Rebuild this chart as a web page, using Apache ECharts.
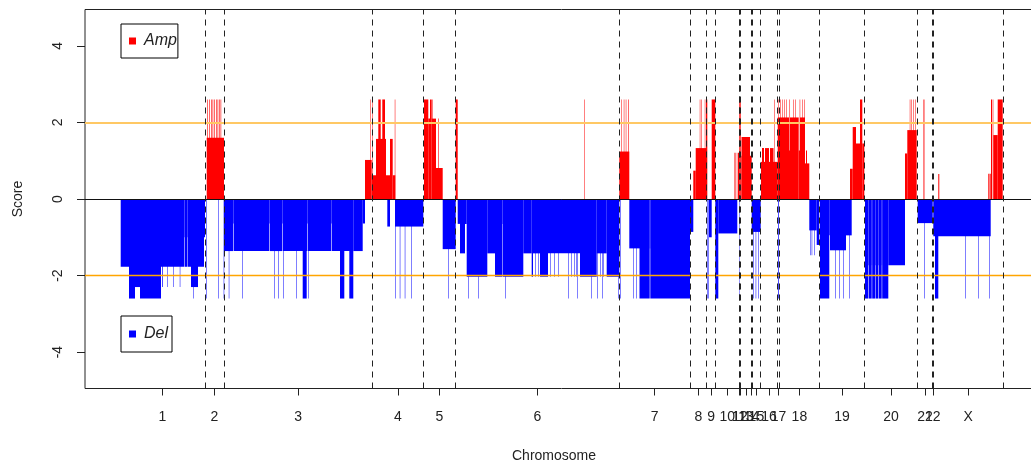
<!DOCTYPE html>
<html>
<head>
<meta charset="utf-8">
<script src="https://cdn.jsdelivr.net/npm/echarts@6/dist/echarts.min.js"></script>
<style>
  html, body { margin: 0; padding: 0; background: #fff; overflow: hidden; }
  #chart { width: 1045px; height: 468px; }
</style>
</head>
<body>
<div id="chart"></div>
<script>
// Chromosome layout along the genome axis (cumulative end positions, chr1 starts at 0)
const chromNames = ['1','2','3','4','5','6','7','8','9','10','11','12','13','14','15','16','17','18','19','20','21','22','X'];
const chromEnds = [85, 104, 252.5, 303.5, 335.5, 499.3, 570, 586.7, 595.7, 619, 619.7, 620.5, 631, 632.3, 640.5, 657.7, 659.3, 699.5, 744.4, 797.7, 812.5, 813.2, 883.2];

// Significance thresholds drawn as horizontal guides
const ampThreshold = 2;
const delThreshold = -2;

// Amplification segments: [start, end, score]
const ampSegments = [
  // chr2
  [86.7, 104, 1.6], [87, 87.6, 2.6], [89, 89.6, 2.6], [91, 91.6, 2.6], [92.6, 93.2, 2.6], [94.2, 94.8, 2.6],
  [96, 96.6, 2.6], [97.6, 98.2, 2.6], [99.2, 99.8, 2.6], [100.6, 101.2, 2.6],
  // chr3 end / chr4
  [245, 251.7, 1.02], [251.7, 256, 0.62], [250.5, 251, 2.6], [252.5, 253, 2.6],
  [256, 266, 1.57], [258.3, 260.7, 2.6], [262.3, 265, 2.6], [266, 270, 0.62],
  [270, 272.7, 1.57], [272.7, 275.3, 0.62], [274.8, 275.3, 2.6],
  // chr5
  [304, 308.3, 2.6], [308.3, 310, 2.1], [310, 311.7, 2.6], [311.7, 316, 2.1], [312.5, 313, 2.6],
  [316, 322.7, 0.81], [318, 318.6, 2.1],
  // chr6
  [335.7, 337.7, 2.6], [464.1, 464.6, 2.6],
  // chr7
  [499.3, 509.3, 1.24], [501.5, 502, 2.6], [503.8, 504.3, 2.6], [505.8, 506.3, 2.6], [508, 508.6, 2.6],
  // chr8
  [573.3, 575.7, 0.74], [575.7, 586, 1.33], [579.8, 580.3, 2.6], [581.5, 582, 2.6], [584.8, 585.3, 2.6], [586, 587.3, 2.6],
  // chr9
  [591.7, 595.3, 2.6],
  // chr10
  [614.3, 614.8, 1.21], [615.5, 616, 1.21], [616.8, 617.3, 1.21], [618, 619.3, 1.21],
  // chr11 / chr12
  [619.3, 620.7, 2.6],
  // chr13
  [620.7, 621.5, 1.13], [621.5, 630, 1.62], [630, 631.7, 1.13],
  // chr16
  [641, 657.7, 0.97], [642, 644, 1.33], [645, 649, 1.33], [650, 653.5, 1.33], [654, 654.5, 2.6],
  // chr17 / chr18
  [657.7, 669, 2.13], [669, 670, 1.27], [670, 678.7, 2.13], [678.7, 680, 1.27], [680, 685, 2.13],
  [685, 689.3, 0.93], [686, 687, 1.27],
  [658.5, 659, 2.6], [660.5, 661, 2.6], [662.3, 662.8, 2.6], [664, 664.5, 2.6], [666, 666.5, 2.6],
  [669.3, 669.8, 2.6], [673, 673.5, 2.6], [675.3, 675.8, 2.6], [679.7, 680.2, 2.6], [682.5, 683, 2.6], [684.2, 684.7, 2.6],
  // chr19
  [730, 732.7, 0.79], [732.7, 736, 1.88], [736, 740, 1.45], [740, 742.3, 2.6], [742.3, 744.3, 1.45],
  // chr20
  [785, 787.3, 1.19], [787.3, 796.7, 1.8], [789.8, 790.3, 2.6], [791.5, 792, 2.6], [793.2, 793.7, 2.6], [795, 795.5, 2.6],
  // chr21
  [803, 803.5, 2.6], [804.2, 804.6, 2.6],
  // chrX
  [818.3, 819.3, 0.65], [868.3, 869.3, 0.66], [869.7, 870.7, 0.66], [871, 872, 2.6], [872.7, 873.3, 2.6],
  [873.3, 877.7, 1.67], [877.7, 882.7, 2.6]
];

// Deletion segments: [start, end, score]
const delSegments = [
  // chr1
  [0.7, 9, -1.77], [9, 15, -2.6], [15, 20, -2.3], [20, 41, -2.6], [41, 64.1, -1.77], [64.1, 64.6, -1.0],
  [64.6, 67.5, -1.77], [67.5, 68, -1.0], [68, 71, -1.77], [71, 78, -2.3], [78, 84, -1.77], [84, 85, -1.0],
  [42.3, 43, -2.3], [47.5, 48, -2.3], [53, 53.5, -2.3], [59.8, 60.3, -2.3], [73.1, 73.6, -2.6],
  // chr2
  [86.5, 87, -2.6], [98, 98.5, -2.6], [103.7, 104.2, -2.6],
  // chr3
  [104, 113, -1.36], [113, 113.6, -0.64], [113.6, 149, -1.36], [149, 149.6, -0.64], [149.6, 162, -1.36],
  [162, 162.6, -0.64], [162.6, 187, -1.36], [187, 187.6, -0.64], [187.6, 211.4, -1.36], [211.4, 212, -0.64],
  [212, 230, -1.36], [230, 233.3, -2.6], [233.3, 242.7, -1.36], [242.7, 245, -0.64],
  [108.8, 109.3, -2.6], [122, 122.5, -2.6], [154, 154.5, -2.6], [158, 158.5, -2.6], [163, 163.5, -2.6],
  [176.5, 177, -2.6], [182.7, 186.7, -2.6], [188, 188.5, -2.6], [220, 224.3, -2.6], [229.3, 230, -2.6],
  // chr4
  [267.3, 270, -0.72], [275, 303.3, -0.72],
  [275.5, 276, -2.6], [279.8, 280.3, -2.6], [284.8, 285.3, -2.6], [291.5, 292, -2.6],
  // chr5
  [322.7, 335.7, -1.31], [328, 328.5, -2.6],
  // chr6
  [337.7, 340, -0.65], [340, 345, -1.42], [345, 346.7, -0.65], [346.7, 367.3, -2.03], [367.3, 375, -1.42],
  [375, 382.5, -2.03], [382.5, 383, -0.65], [383, 403.3, -2.03], [403.3, 411.7, -1.42], [411.7, 413, -2.03],
  [413, 420, -1.42], [420, 428, -2.03], [428, 460, -1.42], [460, 476.7, -2.03], [476.7, 486.7, -1.42],
  [486.7, 499.3, -2.03],
  [415, 415.5, -2.03], [418, 418.5, -2.03], [430, 430.5, -2.03], [434, 434.5, -2.03], [438, 438.5, -2.03],
  [451.5, 452, -2.03], [454, 454.5, -2.03], [456.5, 457, -2.03], [480, 480.5, -2.03], [483, 483.5, -2.03],
  [348, 348.5, -2.6], [358, 358.5, -2.6], [385, 385.5, -2.6], [448, 448.5, -2.6], [457, 457.5, -2.6],
  [471.5, 472, -2.6], [477, 477.5, -2.6], [482, 482.5, -2.6], [498, 498.5, -2.6],
  // chr7
  [500.5, 501, -2.6], [509.3, 520, -1.29], [513, 513.5, -2.6], [516, 516.5, -2.6], [519.5, 520, -2.6],
  [520, 529.7, -2.6], [529.7, 530.3, -1.29], [530.3, 570, -2.6],
  // chr8
  [570, 573.3, -0.86], [587, 587.5, -2.6], [588.3, 588.8, -2.6],
  // chr9
  [589, 591.7, -1.0], [595.3, 598.3, -2.6],
  // chr10
  [598.3, 617.3, -0.9],
  // chr11
  [619.2, 619.6, -2.6],
  // chr13 - chr15
  [631.7, 640.7, -0.86], [633.3, 633.8, -2.6], [635.7, 636.2, -2.6], [638.3, 638.8, -2.6],
  // chr17
  [658.3, 659, -2.6],
  // chr18
  [689.3, 696.7, -0.82], [696.7, 699.3, -1.2],
  [690, 690.5, -1.47], [691.7, 692.2, -1.47], [694.3, 694.8, -1.47],
  // chr19
  [700, 709.3, -2.6], [709.3, 710, -0.95], [710, 726, -1.34], [726, 731.7, -0.95],
  [715, 715.5, -2.6], [719.3, 719.8, -2.6], [723.3, 723.8, -2.6], [729.3, 729.8, -2.6],
  // chr20
  [745, 748.3, -2.6], [748.3, 748.8, -1.73], [748.8, 751.7, -2.6], [751.7, 752.2, -1.73], [752.2, 755, -2.6],
  [755, 755.5, -1.73], [755.5, 758.3, -2.6], [758.3, 758.8, -1.73], [758.8, 761.7, -2.6], [761.7, 762.2, -1.73],
  [762.2, 768.3, -2.6], [768.3, 785, -1.73],
  // chr21
  [797.7, 812.7, -0.63], [804, 804.5, -2.6],
  // chrX
  [813.3, 870.7, -0.97], [815, 818.3, -2.6], [845.5, 846, -2.6], [858, 858.5, -2.6], [869.5, 870, -2.6]
];

// Tick positions at the centre of each chromosome
const chromStarts = [0].concat(chromEnds.slice(0, -1));
const chromMids = chromEnds.map((e, i) => (chromStarts[i] + e) / 2);
const labelByMid = {};
chromMids.forEach((m, i) => { labelByMid[m] = chromNames[i]; });

const FONT = "'Liberation Sans', Arial, sans-serif";
const chart = echarts.init(document.getElementById('chart'), null, { renderer: 'canvas' });

function renderSegment(params, api) {
  const p0 = api.coord([api.value(0), 0]);
  const p1 = api.coord([api.value(1), api.value(2)]);
  return {
    type: 'rect',
    shape: {
      x: p0[0],
      y: Math.min(p0[1], p1[1]),
      width: p1[0] - p0[0],
      height: Math.abs(p1[1] - p0[1])
    },
    style: { fill: api.visual('color') }
  };
}

const legendBase = {
  orient: 'vertical',
  icon: 'rect',
  itemWidth: 7,
  itemHeight: 7,
  borderColor: '#000',
  borderWidth: 1,
  borderRadius: 0,
  selectedMode: false,
  textStyle: { fontFamily: FONT, fontStyle: 'italic', fontSize: 16, color: '#222', padding: [0, 0, 0, 3] }
};

chart.setOption({
  animation: false,
  backgroundColor: '#fff',
  grid: {
    left: 85, top: 9.5, width: 953, height: 379,
    outerBoundsMode: 'none',
    show: true, borderColor: '#222', borderWidth: 1, backgroundColor: 'transparent'
  },
  legend: [
    Object.assign({}, legendBase, { data: ['Amp'], left: 121, top: 24, padding: [9, 1, 9, 8] }),
    Object.assign({}, legendBase, { data: ['Del'], left: 121, top: 316, padding: [10, 4, 10, 8] })
  ],
  xAxis: {
    type: 'value',
    min: -35,
    max: 918,
    name: 'Chromosome',
    nameLocation: 'middle',
    nameGap: 61,
    nameTextStyle: { fontFamily: FONT, fontSize: 14, color: '#222', padding: [0, 15, 0, 0] },
    axisLine: { show: false, onZero: false },
    splitLine: { show: false },
    axisTick: { show: true, customValues: chromMids, length: 7, lineStyle: { color: '#222' } },
    axisLabel: {
      customValues: chromMids,
      margin: 22,
      fontFamily: FONT, fontSize: 14, color: '#222',
      formatter: v => labelByMid[v] || ''
    }
  },
  yAxis: {
    type: 'value',
    min: -4.95,
    max: 4.95,
    name: 'Score',
    nameLocation: 'middle',
    nameRotate: 90,
    nameGap: 60,
    nameTextStyle: { fontFamily: FONT, fontSize: 14, color: '#222' },
    axisLine: { show: false, onZero: false },
    splitLine: { show: false },
    axisTick: { show: true, customValues: [-4, -2, 0, 2, 4], length: 8, lineStyle: { color: '#222' } },
    axisLabel: {
      customValues: [-4, -2, 0, 2, 4],
      rotate: 90,
      margin: 20,
      fontFamily: FONT, fontSize: 14, color: '#222'
    }
  },
  series: [
    {
      name: 'Amp',
      type: 'custom',
      renderItem: renderSegment,
      itemStyle: { color: '#ff0000' },
      encode: { x: [0, 1], y: 2 },
      data: ampSegments,
      silent: true,
      z: 2
    },
    {
      name: 'Del',
      type: 'custom',
      renderItem: renderSegment,
      itemStyle: { color: '#0000ff' },
      encode: { x: [0, 1], y: 2 },
      data: delSegments,
      silent: true,
      z: 2
    },
    {
      name: 'guides',
      type: 'line',
      data: [],
      silent: true,
      z: 5,
      markLine: {
        silent: true,
        symbol: 'none',
        label: { show: false },
        animation: false,
        data: [
          { yAxis: 0, lineStyle: { color: '#111', width: 1, type: 'solid' } },
          { yAxis: ampThreshold, lineStyle: { color: '#ffc864', width: 2, type: 'solid' } },
          { yAxis: delThreshold, lineStyle: { color: '#ffa500', width: 1.3, type: 'solid' } }
        ].concat(chromEnds.map(e => ({ xAxis: e, lineStyle: { color: '#222', width: 1, type: [6, 5] } })))
      }
    }
  ]
});
</script>
</body>
</html>
